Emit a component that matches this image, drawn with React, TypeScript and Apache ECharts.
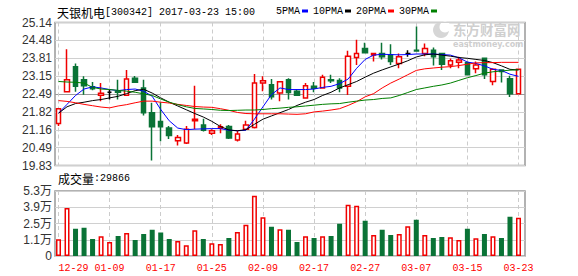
import React, { useEffect, useRef } from "react";
import * as echarts from "echarts";

// ---- data ----
const dates = [
  "12-29","12-30","01-03","01-04","01-05","01-06","01-09","01-10","01-11","01-12","01-13",
  "01-16","01-17","01-18","01-19","01-20","01-23","01-24","01-25","01-26","02-03","02-06",
  "02-07","02-08","02-09","02-10","02-13","02-14","02-15","02-16","02-17","02-20","02-21",
  "02-22","02-23","02-24","02-27","02-28","03-01","03-02","03-03","03-06","03-07","03-08",
  "03-09","03-10","03-13","03-14","03-15","03-16","03-17","03-20","03-21","03-22","03-23",
];
const opens = [21.39,22.57,23.50,23.01,22.75,22.44,22.55,22.58,22.44,23.07,22.71,21.79,21.46,21.22,20.75,20.67,21.49,21.33,21.03,21.21,21.28,20.78,21.18,21.24,22.89,22.83,22.52,23.01,22.59,22.34,22.77,22.71,23.01,22.99,22.77,23.84,24.17,23.93,23.99,23.93,23.62,23.99,24.11,23.99,24.11,23.99,23.56,23.66,23.65,23.42,23.81,22.95,23.38,23.05,22.49];
const closes = [21.94,23.01,22.77,22.79,22.68,22.51,22.55,22.55,23.04,22.92,21.79,21.27,21.27,20.94,20.87,21.18,21.55,21.14,21.12,21.27,20.85,21.00,21.33,22.89,22.98,22.38,22.94,22.54,22.44,22.79,22.70,23.11,22.98,22.71,23.89,23.99,24.02,23.99,23.87,23.69,23.87,23.99,24.08,24.17,23.87,23.59,23.72,23.75,23.20,23.56,23.20,23.40,23.32,22.49,23.40];
const lows = [21.30,22.57,22.57,22.46,22.62,22.22,22.28,22.28,22.44,22.89,21.69,20.02,20.73,20.81,20.57,20.63,21.18,21.09,20.96,21.03,20.81,20.72,21.18,21.20,22.59,22.28,22.22,22.28,22.44,22.34,22.55,22.71,22.89,22.55,22.45,23.56,24.02,23.69,23.77,23.56,23.44,23.87,24.08,23.89,23.54,23.38,23.44,23.44,23.20,23.26,23.04,22.81,22.91,22.37,22.49];
const highs = [21.94,24.15,23.62,23.14,22.93,22.89,22.65,23.01,23.38,23.15,23.01,22.16,22.18,21.30,20.96,21.30,22.79,21.57,21.18,21.36,21.33,21.12,21.49,23.23,23.14,23.04,22.94,23.07,22.65,22.89,22.93,23.20,23.20,23.07,24.09,24.50,24.39,24.01,24.39,24.33,23.99,24.11,24.99,24.36,24.21,23.99,23.80,23.87,23.69,23.69,23.81,23.44,23.40,23.16,23.40];

const ma5 = [21.77,22.10,22.43,22.67,22.75,22.71,22.65,22.61,22.65,22.67,22.59,22.40,21.91,21.49,21.22,21.16,21.18,21.19,21.20,21.20,21.14,21.12,21.14,21.55,22.01,22.46,22.71,22.65,22.65,22.65,22.67,22.73,22.77,22.87,23.04,23.44,23.77,23.93,23.96,23.95,23.94,23.95,23.97,23.97,23.97,23.95,23.93,23.83,23.67,23.62,23.53,23.40,23.36,23.22,23.14];
const ma10 = [21.77,22.01,22.13,22.18,22.24,22.28,22.34,22.40,22.50,22.61,22.66,22.52,22.34,22.18,22.04,21.90,21.76,21.63,21.47,21.28,21.15,21.12,21.16,21.36,21.55,21.67,21.79,21.91,22.06,22.18,22.28,22.43,22.55,22.71,22.83,22.95,23.11,23.26,23.38,23.49,23.60,23.72,23.86,23.94,23.97,23.93,23.89,23.84,23.81,23.77,23.73,23.65,23.53,23.40,23.38];
const ma20 = [22.24,22.21,22.16,22.10,22.05,22.00,21.97,22.04,22.09,22.16,22.22,22.22,22.18,22.15,22.10,22.06,22.02,22.00,21.99,21.94,21.88,21.80,21.76,21.75,21.75,21.75,21.75,21.74,21.73,21.75,21.82,21.85,21.89,21.94,22.06,22.20,22.38,22.50,22.71,22.89,23.04,23.20,23.36,23.42,23.45,23.48,23.50,23.54,23.59,23.64,23.65,23.65,23.66,23.66,23.66];
const ma30 = [22.95,22.93,22.92,22.89,22.73,22.67,22.65,22.62,22.59,22.55,22.49,22.43,22.30,22.18,22.09,22.01,21.95,21.93,21.91,21.88,21.87,21.88,21.89,21.89,21.91,21.94,21.96,21.99,22.01,22.04,22.07,22.10,22.12,22.13,22.18,22.22,22.26,22.28,22.32,22.34,22.43,22.54,22.65,22.71,22.77,22.82,22.89,22.99,23.09,23.17,23.26,23.31,23.34,23.37,23.38];

const volumes = [11430,38280,20380,21250,11720,14030,9120,14320,16920,10860,16050,19520,17210,11720,9990,6240,19230,11720,7970,7390,12590,17780,23840,48960,30480,22110,20090,19520,9120,14030,12590,14030,14320,24710,41160,40300,27310,15190,19520,15190,16050,22690,28180,15190,12590,13450,13160,10860,20380,12300,16050,14030,12590,30770,29866];

const priceTickLabels = ["19.83","20.49","21.16","21.82","22.49","23.15","23.81","24.48","25.14"];
const volTickLabels = ["0","1.1万","2.5万","3.9万","5.3万"];

const maNames = ["5PMA","10PMA","20PMA","30PMA"];
const maColors = ["#0000ff","#000000","#ff0000","#008000"];
const maSeries = [ma5, ma10, ma20, ma30];

const stockName = "天银机电";
const stockCode = "300342";
const stamp = "2017-03-23 15:00";
const volTitle = "成交量";
const brandCn = "东方财富网";
const brandEn = "eastmoney.com";

// ---- scales ----
const P_MIN = 19.83, P_MAX = 25.14, P_STEP = 0.66375;
const V_MIN = -3000, V_MAX = 53000, V_STEP = 14000;

const RED = "#f00000";
const GREEN = "#0a7336";

export default function App() {
  const ref = useRef<HTMLDivElement>(null);
  useEffect(() => {
    if (!ref.current) return;
    const chart = echarts.init(ref.current, null, { renderer: "svg" });

    const ohlc = dates.map((_, i) => [opens[i], closes[i], lows[i], highs[i]]);
    const isUp = (i: number) =>
      closes[i] > opens[i] ||
      (closes[i] === opens[i] && (i === 0 || closes[i] >= closes[i - 1]));
    const volData = volumes.map((v, i) => ({
      value: v,
      itemStyle: isUp(i)
        ? { color: "#ffffff", borderColor: RED, borderWidth: 1.5 }
        : { color: GREEN, borderColor: GREEN, borderWidth: 1.5 },
    }));

    const mainSplitColors = priceTickLabels.map((_, i) => (i === 4 ? "#999999" : "#d0d0d0"));

    // legend layout
    const legendEls: any[] = [];
    let lx = 276;
    maNames.forEach((n, i) => {
      legendEls.push({
        type: "text", x: lx, y: 11,
        style: { text: n, fontFamily: "Liberation Mono", fontSize: 10, fill: "#000", verticalAlign: "middle" },
      });
      const w = n.length * 6;
      legendEls.push({ type: "rect", shape: { x: lx + w + 2, y: 9.5, width: 6, height: 3 }, style: { fill: maColors[i] } });
      lx = lx + w + 2 + 6 + 5;
    });

    const option: any = {
      animation: false,
      backgroundColor: "#ffffff",
      grid: [
        { left: 55, width: 470, top: 22.5, height: 143, show: true, borderColor: "#999999", borderWidth: 1.5 },
        { left: 58.5, width: 460, top: 22.5, height: 143 },
        { left: 55, width: 470, top: 191, height: 65, show: true, borderColor: "#999999", borderWidth: 1.5 },
        { left: 58.5, width: 460, top: 191, height: 65 },
      ],
      xAxis: [
        { gridIndex: 0, type: "value", min: 0, max: 1, show: false },
        {
          gridIndex: 1, type: "category", data: dates, boundaryGap: false,
          axisLine: { show: false }, axisTick: { show: false }, axisLabel: { show: false },
          splitLine: { show: true, interval: 5, lineStyle: { color: "#cccccc", type: [4, 3], width: 1 } },
        },
        { gridIndex: 2, type: "value", min: 0, max: 1, show: false },
        {
          gridIndex: 3, type: "category", data: dates, boundaryGap: false,
          axisLine: { show: false }, axisTick: { show: false },
          axisLabel: {
            interval: 5, color: "#ff0000", fontFamily: "Liberation Mono", fontSize: 10, margin: 7,
            alignMinLabel: "left",
          },
          splitLine: { show: true, interval: 5, lineStyle: { color: "#cccccc", type: [4, 3], width: 1 } },
        },
      ],
      yAxis: [
        {
          gridIndex: 0, type: "value", min: P_MIN, max: P_MAX, interval: P_STEP,
          axisLine: { show: false }, axisTick: { show: false },
          axisLabel: {
            margin: 3, color: "#333333", fontFamily: "Liberation Sans", fontSize: 12,
            formatter: (v: number) => priceTickLabels[Math.round((v - P_MIN) / P_STEP)] ?? "",
          },
          splitLine: { show: true, lineStyle: { color: mainSplitColors, width: 1 } },
        },
        { gridIndex: 1, type: "value", min: P_MIN, max: P_MAX, show: false, splitLine: { show: false } },
        {
          gridIndex: 2, type: "value", min: V_MIN, max: V_MAX, interval: V_STEP,
          axisLine: { show: false }, axisTick: { show: false },
          axisLabel: {
            margin: 3, color: "#333333", fontFamily: "Liberation Sans, Noto Sans CJK SC", fontSize: 12,
            formatter: (v: number) => volTickLabels[Math.round((v - V_MIN) / V_STEP)] ?? "",
          },
          splitLine: { show: true, lineStyle: { color: "#d0d0d0", width: 1 } },
        },
        { gridIndex: 3, type: "value", min: V_MIN, max: V_MAX, startValue: V_MIN, show: false, splitLine: { show: false } },
      ],
      series: [
        {
          type: "candlestick", xAxisIndex: 1, yAxisIndex: 1, data: ohlc, barWidth: 5, clip: false,
          itemStyle: {
            color: "#ffffff", color0: GREEN, borderColor: RED, borderColor0: GREEN,
            borderColorDoji: "#000000", borderWidth: 1.5,
          },
        },
        ...maSeries.map((d, i) => ({
          type: "line", name: maNames[i], xAxisIndex: 1, yAxisIndex: 1, data: d,
          symbol: "none", smooth: false, lineStyle: { color: maColors[i], width: 1 },
        })),
        { type: "bar", xAxisIndex: 3, yAxisIndex: 3, data: volData, barWidth: 5, clip: false },
      ],
      graphic: [
        // watermark
        { type: "circle", shape: { cx: 441, cy: 30, r: 8 }, style: { fill: "#d6d6d6" }, z: 0 },
        { type: "circle", shape: { cx: 445, cy: 27, r: 5.5 }, style: { fill: "#ffffff" }, z: 0 },
        {
          type: "text", x: 453, y: 28.5, z: 0,
          style: { text: brandCn, fontFamily: "Noto Sans CJK SC", fontWeight: "bold", fontSize: 13.5, fill: "#cfcfcf", verticalAlign: "middle" },
        },
        {
          type: "text", x: 453, y: 44.5, z: 0,
          style: { text: brandEn, fontFamily: "DejaVu Sans", fontWeight: "bold", fontSize: 8, fill: "#cfcfcf", verticalAlign: "middle" },
        },
        // title
        {
          type: "text", x: 57, y: 12,
          style: {
            text: `{c|${stockName}}{m|[${stockCode}] ${stamp}}`, verticalAlign: "middle",
            rich: {
              c: { fontFamily: "Noto Sans CJK SC", fontSize: 12, fill: "#000" },
              m: { fontFamily: "Liberation Mono", fontSize: 10, fill: "#000" },
            },
          },
        },
        ...legendEls,
        {
          type: "text", x: 58, y: 178.5,
          style: {
            text: `{c|${volTitle}}{m|:${volumes[volumes.length - 1]}}`, verticalAlign: "middle",
            rich: {
              c: { fontFamily: "Noto Sans CJK SC", fontSize: 12, fill: "#000" },
              m: { fontFamily: "Liberation Mono", fontSize: 10, fill: "#000" },
            },
          },
        },
      ],
    };
    chart.setOption(option);
    return () => chart.dispose();
  }, []);
  return (
    <div
      ref={ref}
      style={{ position: "fixed", left: 0, top: 0, width: 578, height: 276, background: "#fff" }}
    />
  );
}
